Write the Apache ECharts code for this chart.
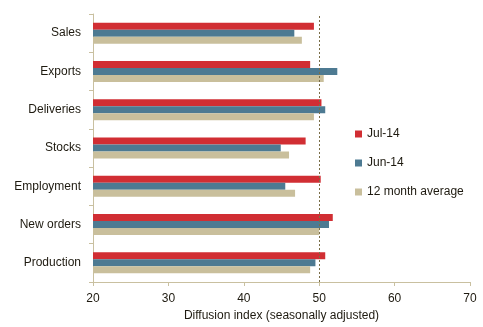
<!DOCTYPE html>
<html>
<head>
<meta charset="utf-8">
<script src="https://cdn.jsdelivr.net/npm/echarts@6/dist/echarts.min.js"></script>
<style>
  html, body { margin: 0; padding: 0; background: #ffffff; }
  #chart { width: 483px; height: 327px; }
</style>
</head>
<body>
<div id="chart"></div>
<script>
// Survey components, listed bottom to top on the category axis
const categories = ['Production', 'New orders', 'Employment', 'Stocks', 'Deliveries', 'Exports', 'Sales'];

// Diffusion index readings (seasonally adjusted)
const jul14 = [50.8, 51.8, 50.2, 48.2, 50.3, 48.8, 49.3];
const jun14 = [49.5, 51.3, 45.5, 44.9, 50.8, 52.4, 46.7];
const avg12 = [48.8, 50.0, 46.8, 46.0, 49.3, 50.6, 47.7];

// Value axis ticks
const xTicks = [20, 30, 40, 50, 60, 70];
const neutralLevel = 50;

const font = 'Liberation Sans, Arial, sans-serif';
const axisColor = '#c9c0a0';
const textColor = '#1e1a10';

const chart = echarts.init(document.getElementById('chart'), null, { renderer: 'canvas' });

const barBase = { type: 'bar', barWidth: 7, barGap: '0%', animation: false };

chart.setOption({
  backgroundColor: '#ffffff',
  textStyle: { fontFamily: font },
  grid: { left: 93, right: 13, top: 14, bottom: 45, containLabel: false },
  legend: {
    orient: 'vertical',
    left: 350,
    top: 123,
    itemWidth: 7,
    itemHeight: 7,
    itemGap: 17,
    icon: 'rect',
    data: ['Jul-14', 'Jun-14', '12 month average'],
    textStyle: { fontFamily: font, fontSize: 12, color: textColor }
  },
  xAxis: {
    type: 'value',
    min: xTicks[0],
    max: xTicks[xTicks.length - 1],
    interval: xTicks[1] - xTicks[0],
    name: 'Diffusion index (seasonally adjusted)',
    nameLocation: 'middle',
    nameGap: 18,
    nameTextStyle: { fontFamily: font, fontSize: 12, color: textColor },
    axisLine: { show: true, lineStyle: { color: axisColor, width: 1 } },
    axisTick: { show: true, length: 4, lineStyle: { color: axisColor } },
    axisLabel: { margin: 11, fontFamily: font, fontSize: 12, color: textColor },
    splitLine: { show: false }
  },
  yAxis: {
    type: 'category',
    data: categories,
    axisLine: { show: true, lineStyle: { color: axisColor, width: 1 } },
    axisTick: { show: true, length: 4, lineStyle: { color: axisColor } },
    axisLabel: { margin: 12, fontFamily: font, fontSize: 12, color: textColor },
    splitLine: { show: false }
  },
  series: [
    Object.assign({}, barBase, {
      name: 'Jul-14',
      data: jul14,
      itemStyle: { color: '#d12e33' },
      markLine: {
        silent: true,
        symbol: ['none', 'none'],
        label: { show: false },
        lineStyle: { color: '#7a6e48', type: [2, 2], width: 1 },
        data: [{ xAxis: neutralLevel }]
      }
    }),
    Object.assign({}, barBase, {
      name: 'Jun-14',
      data: jun14,
      itemStyle: { color: '#4d7a92' }
    }),
    Object.assign({}, barBase, {
      name: '12 month average',
      data: avg12,
      itemStyle: { color: '#c9bf9c' }
    })
  ]
});
</script>
</body>
</html>
